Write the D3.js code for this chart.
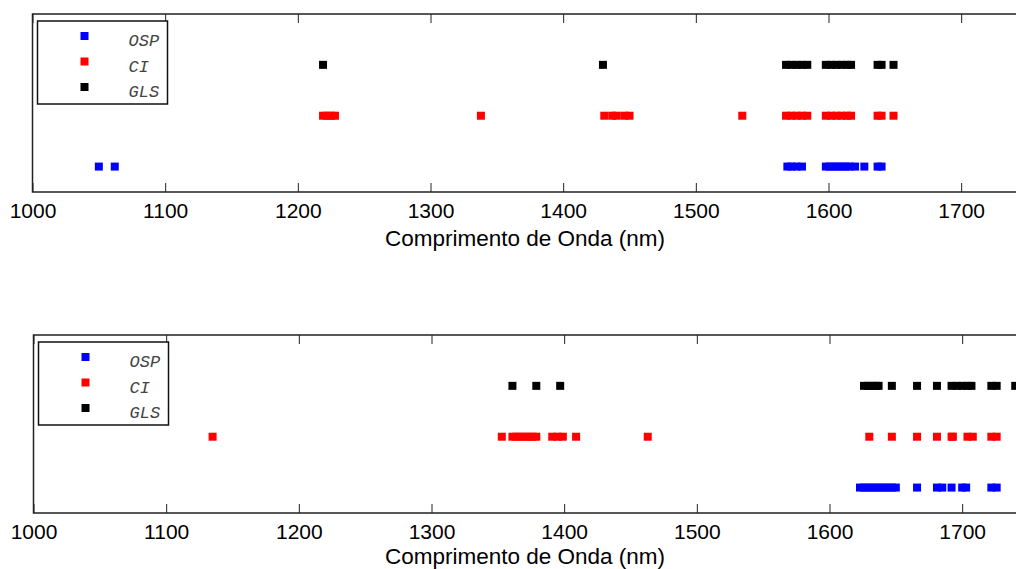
<!DOCTYPE html>
<html><head><meta charset="utf-8">
<script src="https://cdn.jsdelivr.net/npm/d3@7"></script>
<style>body{margin:0;background:#fff;}svg{display:block;}</style>
</head><body>
<svg id="c" width="1016" height="569"></svg>
<script>
const seriesNames = ["OSP", "CI", "GLS"];
const seriesColors = ["#0000ff", "#ff0000", "#000000"];
const seriesLevels = [1, 2, 3];
const xTicks = [1000, 1100, 1200, 1300, 1400, 1500, 1600, 1700];
const xLabel = "Comprimento de Onda (nm)";

const topOSP = [1050, 1062, 1569, 1572, 1576, 1580, 1598, 1601, 1604, 1607, 1610, 1613, 1616, 1620, 1627, 1637, 1640];
const topCI = [1219, 1222, 1225, 1228, 1338, 1431, 1437, 1440, 1446, 1450, 1535, 1568, 1572, 1576, 1580, 1584, 1598, 1602, 1606, 1610, 1614, 1617, 1637, 1640, 1649];
const topGLS = [1219, 1430, 1568, 1572, 1576, 1580, 1584, 1598, 1602, 1606, 1610, 1614, 1617, 1637, 1640, 1649];

const botOSP = [1623, 1626, 1629, 1632, 1635, 1638, 1641, 1644, 1647, 1650, 1666, 1681, 1685, 1692, 1700, 1703, 1722, 1726];
const botCI = [1135, 1353, 1361, 1364, 1367, 1370, 1373, 1376, 1379, 1391, 1395, 1399, 1409, 1463, 1630, 1647, 1666, 1681, 1692, 1693, 1704, 1708, 1722, 1726];
const botGLS = [1361, 1379, 1397, 1626, 1629, 1632, 1635, 1637, 1647, 1666, 1681, 1692, 1696, 1700, 1704, 1707, 1722, 1726, 1740];

const svg = d3.select("#c");

function panel(top, left, data, labelBase) {
  const h = 178, w = 995;
  const x = d3.scaleLinear().domain([1000, 1750]).range([left, left + w]);
  const y = d3.scaleLinear().domain([0.5, 4]).range([top + h, top]);
  const g = svg.append("g");

  data.forEach((vals, i) => {
    g.selectAll(null).data(vals).enter().append("rect")
      .attr("x", d => x(d) - 4).attr("y", y(seriesLevels[i]) - 4)
      .attr("width", 8).attr("height", 8)
      .attr("fill", seriesColors[i]);
  });

  const bottomAxis = d3.axisBottom(x).tickValues(xTicks).tickSize(-9).tickPadding(11).tickFormat(d3.format("d"));
  const ga = g.append("g").attr("transform", `translate(0,${top + h})`).call(bottomAxis);
  ga.select(".domain").remove();
  ga.selectAll("line").attr("stroke", "#222").attr("stroke-width", 1);
  ga.selectAll("text").attr("font-family", "Liberation Sans, Arial, sans-serif").attr("font-size", 21).attr("fill", "#000");
  const topAxis = d3.axisTop(x).tickValues(xTicks).tickSize(-9).tickFormat("");
  const gt = g.append("g").attr("transform", `translate(0,${top})`).call(topAxis);
  gt.select(".domain").remove();
  gt.selectAll("line").attr("stroke", "#222").attr("stroke-width", 1);

  g.append("path")
    .attr("d", `M${x(1750)},${top}H${left}V${top + h}H${x(1750)}`)
    .attr("fill", "none").attr("stroke", "#222").attr("stroke-width", 1.5);

  g.append("text").attr("x", 525).attr("y", labelBase)
    .attr("text-anchor", "middle")
    .attr("font-family", "Liberation Sans, Arial, sans-serif").attr("font-size", 22.5)
    .text(xLabel);

  const lg = g.append("g").attr("transform", `translate(${left + 5},${top + 7})`);
  lg.append("rect").attr("x", 0).attr("y", 0).attr("width", 130).attr("height", 83)
    .attr("fill", "#fff").attr("stroke", "#111").attr("stroke-width", 1.5);
  seriesNames.forEach((n, i) => {
    const cy = 15 + i * 25.5;
    lg.append("rect").attr("x", 43).attr("y", cy - 4).attr("width", 8).attr("height", 8).attr("fill", seriesColors[i]);
    lg.append("text").attr("x", 91).attr("y", cy + 10)
      .attr("font-family", "Liberation Mono, Courier New, monospace").attr("font-style", "italic")
      .attr("font-size", 17).attr("fill", "#444").text(n);
  });
}

panel(14, 32.5, [topOSP, topCI, topGLS], 246);
panel(335, 33.5, [botOSP, botCI, botGLS], 564);
</script>
</body></html>
